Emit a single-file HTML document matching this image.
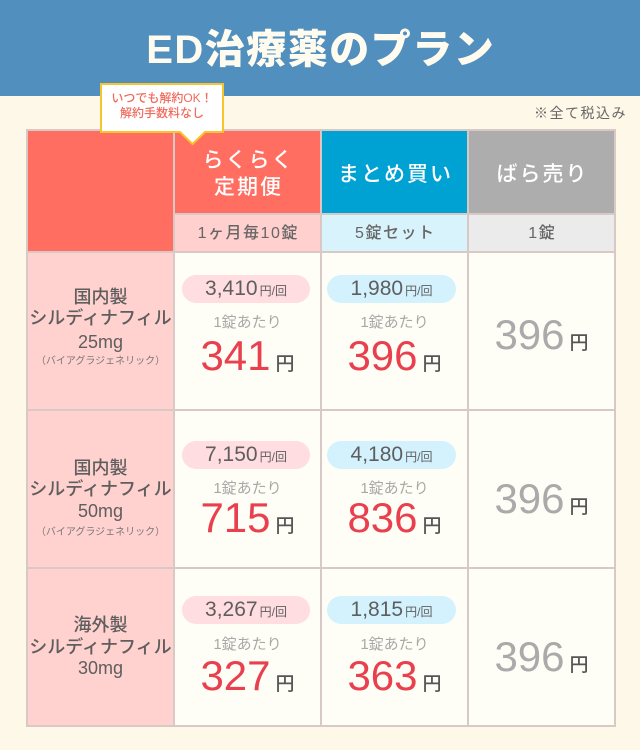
<!DOCTYPE html>
<html lang="ja">
<head>
<meta charset="utf-8">
<style>
*{margin:0;padding:0;box-sizing:border-box;}
html,body{width:640px;height:750px;overflow:hidden;background:#fef8e8;}
body{position:relative;font-family:"Liberation Sans","Noto Sans CJK JP",sans-serif;color:#666;}
.a{position:absolute;}
.hdr{left:0;top:0;width:640px;height:96px;background:#508fbe;}
.title{left:0;top:30px;width:640px;height:40px;line-height:40px;font-size:40px;font-weight:900;color:#fffbef;text-align:center;letter-spacing:1.5px;padding-left:1.5px;white-space:nowrap;}
.tax{right:13px;top:103px;height:20px;line-height:20px;font-size:14px;letter-spacing:1.5px;color:#666;white-space:nowrap;}
.grid{left:26px;top:129px;width:590px;height:598px;background:#d8c8c6;}
.c{position:absolute;}
.red{background:#ff6e60;}
.cyan{background:#00a1d3;}
.gray{background:#adadad;}
.spk{background:#ffd0cd;}
.sbl{background:#d8f3fc;}
.sgr{background:#ebebeb;}
.lpk{background:#ffd1cf;}
.dat{background:#fffef6;}
.ht{position:absolute;width:145px;text-align:center;color:#fff;font-size:21px;line-height:26px;height:26px;letter-spacing:2px;padding-left:2px;white-space:nowrap;font-weight:500;}
.st{position:absolute;width:145px;text-align:center;color:#666;font-size:16px;line-height:20px;height:20px;letter-spacing:1.5px;padding-left:1.5px;white-space:nowrap;font-weight:500;}
.ln{position:absolute;left:28px;width:145px;text-align:center;color:#5e5e5e;font-size:18px;line-height:22px;height:22px;white-space:nowrap;font-weight:500;}
.sm{position:absolute;left:28px;width:145px;text-align:center;color:#777;font-size:10px;line-height:14px;height:14px;white-space:nowrap;}
.pill{position:absolute;height:28px;line-height:28px;border-radius:14px;text-align:center;font-size:21px;color:#5e5e5e;white-space:nowrap;}
.pill span{font-size:12px;margin-left:2px;}
.pp{background:#ffdde1;}
.pb{background:#d3f2fd;}
.per{position:absolute;width:145px;text-align:center;font-size:15px;line-height:20px;height:20px;color:#a8a8a8;white-space:nowrap;}
.big{position:absolute;width:145px;text-align:center;font-size:42px;line-height:42px;height:42px;color:#e8404e;white-space:nowrap;}
.big span{font-size:19px;color:#555;margin-left:5px;font-weight:500;}
.big.g{color:#aaaaaa;}
.tipt{position:absolute;left:100px;width:124px;text-align:center;font-size:12px;line-height:15px;height:15px;color:#f06a5c;white-space:nowrap;font-weight:500;}
</style>
</head>
<body>
<div class="a hdr"></div>
<div class="a title">ED治療薬のプラン</div>

<div class="a tax">※全て税込み</div>

<div class="a grid"></div>
<!-- header row -->
<div class="c red" style="left:28px;top:131px;width:145px;height:120px;"></div>
<div class="c red" style="left:175px;top:131px;width:145px;height:82px;"></div>
<div class="c cyan" style="left:322px;top:131px;width:145px;height:82px;"></div>
<div class="c gray" style="left:469px;top:131px;width:145px;height:82px;"></div>
<!-- sub row -->
<div class="c spk" style="left:175px;top:215px;width:145px;height:36px;"></div>
<div class="c sbl" style="left:322px;top:215px;width:145px;height:36px;"></div>
<div class="c sgr" style="left:469px;top:215px;width:145px;height:36px;"></div>
<!-- data rows -->
<div class="c lpk" style="left:28px;top:253px;width:145px;height:156px;"></div>
<div class="c dat" style="left:175px;top:253px;width:145px;height:156px;"></div>
<div class="c dat" style="left:322px;top:253px;width:145px;height:156px;"></div>
<div class="c dat" style="left:469px;top:253px;width:145px;height:156px;"></div>

<div class="c lpk" style="left:28px;top:411px;width:145px;height:156px;"></div>
<div class="c dat" style="left:175px;top:411px;width:145px;height:156px;"></div>
<div class="c dat" style="left:322px;top:411px;width:145px;height:156px;"></div>
<div class="c dat" style="left:469px;top:411px;width:145px;height:156px;"></div>

<div class="c lpk" style="left:28px;top:569px;width:145px;height:156px;"></div>
<div class="c dat" style="left:175px;top:569px;width:145px;height:156px;"></div>
<div class="c dat" style="left:322px;top:569px;width:145px;height:156px;"></div>
<div class="c dat" style="left:469px;top:569px;width:145px;height:156px;"></div>

<!-- header texts -->
<div class="ht" style="left:175px;top:148px;">らくらく</div>
<div class="ht" style="left:175px;top:175px;">定期便</div>
<div class="ht" style="left:322px;top:162px;">まとめ買い</div>
<div class="ht" style="left:469px;top:162px;">ばら売り</div>

<div class="st" style="left:175px;top:223.5px;">1ヶ月毎10錠</div>
<div class="st" style="left:322px;top:223.5px;">5錠セット</div>
<div class="st" style="left:469px;top:223.5px;">1錠</div>

<!-- row 1 -->
<div class="ln" style="top:286px;">国内製</div>
<div class="ln" style="top:307px;">シルディナフィル</div>
<div class="ln" style="top:331px;">25mg</div>
<div class="sm" style="top:355px;">（バイアグラジェネリック）</div>

<div class="pill pp" style="left:182px;top:275px;width:128px;">3,410<span>円/回</span></div>
<div class="per" style="left:175px;top:313px;">1錠あたり</div>
<div class="big" style="left:175px;top:334.5px;">341<span>円</span></div>

<div class="pill pb" style="left:327px;top:275px;width:129px;">1,980<span>円/回</span></div>
<div class="per" style="left:322px;top:313px;">1錠あたり</div>
<div class="big" style="left:322px;top:334.5px;">396<span>円</span></div>

<div class="big g" style="left:469px;top:313.5px;">396<span>円</span></div>

<!-- row 2 -->
<div class="ln" style="top:457px;">国内製</div>
<div class="ln" style="top:478px;">シルディナフィル</div>
<div class="ln" style="top:500px;">50mg</div>
<div class="sm" style="top:526px;">（バイアグラジェネリック）</div>

<div class="pill pp" style="left:182px;top:440.5px;width:128px;">7,150<span>円/回</span></div>
<div class="per" style="left:175px;top:479px;">1錠あたり</div>
<div class="big" style="left:175px;top:496.5px;">715<span>円</span></div>

<div class="pill pb" style="left:327px;top:440.5px;width:129px;">4,180<span>円/回</span></div>
<div class="per" style="left:322px;top:479px;">1錠あたり</div>
<div class="big" style="left:322px;top:496.5px;">836<span>円</span></div>

<div class="big g" style="left:469px;top:477.5px;">396<span>円</span></div>

<!-- row 3 -->
<div class="ln" style="top:614px;">海外製</div>
<div class="ln" style="top:636px;">シルディナフィル</div>
<div class="ln" style="top:657px;">30mg</div>

<div class="pill pp" style="left:182px;top:596px;width:128px;">3,267<span>円/回</span></div>
<div class="per" style="left:175px;top:635px;">1錠あたり</div>
<div class="big" style="left:175px;top:654.5px;">327<span>円</span></div>

<div class="pill pb" style="left:327px;top:596px;width:129px;">1,815<span>円/回</span></div>
<div class="per" style="left:322px;top:635px;">1錠あたり</div>
<div class="big" style="left:322px;top:654.5px;">363<span>円</span></div>

<div class="big g" style="left:469px;top:635.5px;">396<span>円</span></div>

<!-- tooltip -->
<svg class="a" style="left:0;top:0;" width="640" height="160" viewBox="0 0 640 160">
<path d="M101,84 H223 V132 H205 L192.5,144 L180,132 H101 Z" fill="#ffffff" stroke="#f7c52b" stroke-width="2" stroke-linejoin="miter"/>
</svg>
<div class="tipt" style="top:91px;">いつでも解約OK！</div>
<div class="tipt" style="top:105.5px;">解約手数料なし</div>
</body>
</html>
